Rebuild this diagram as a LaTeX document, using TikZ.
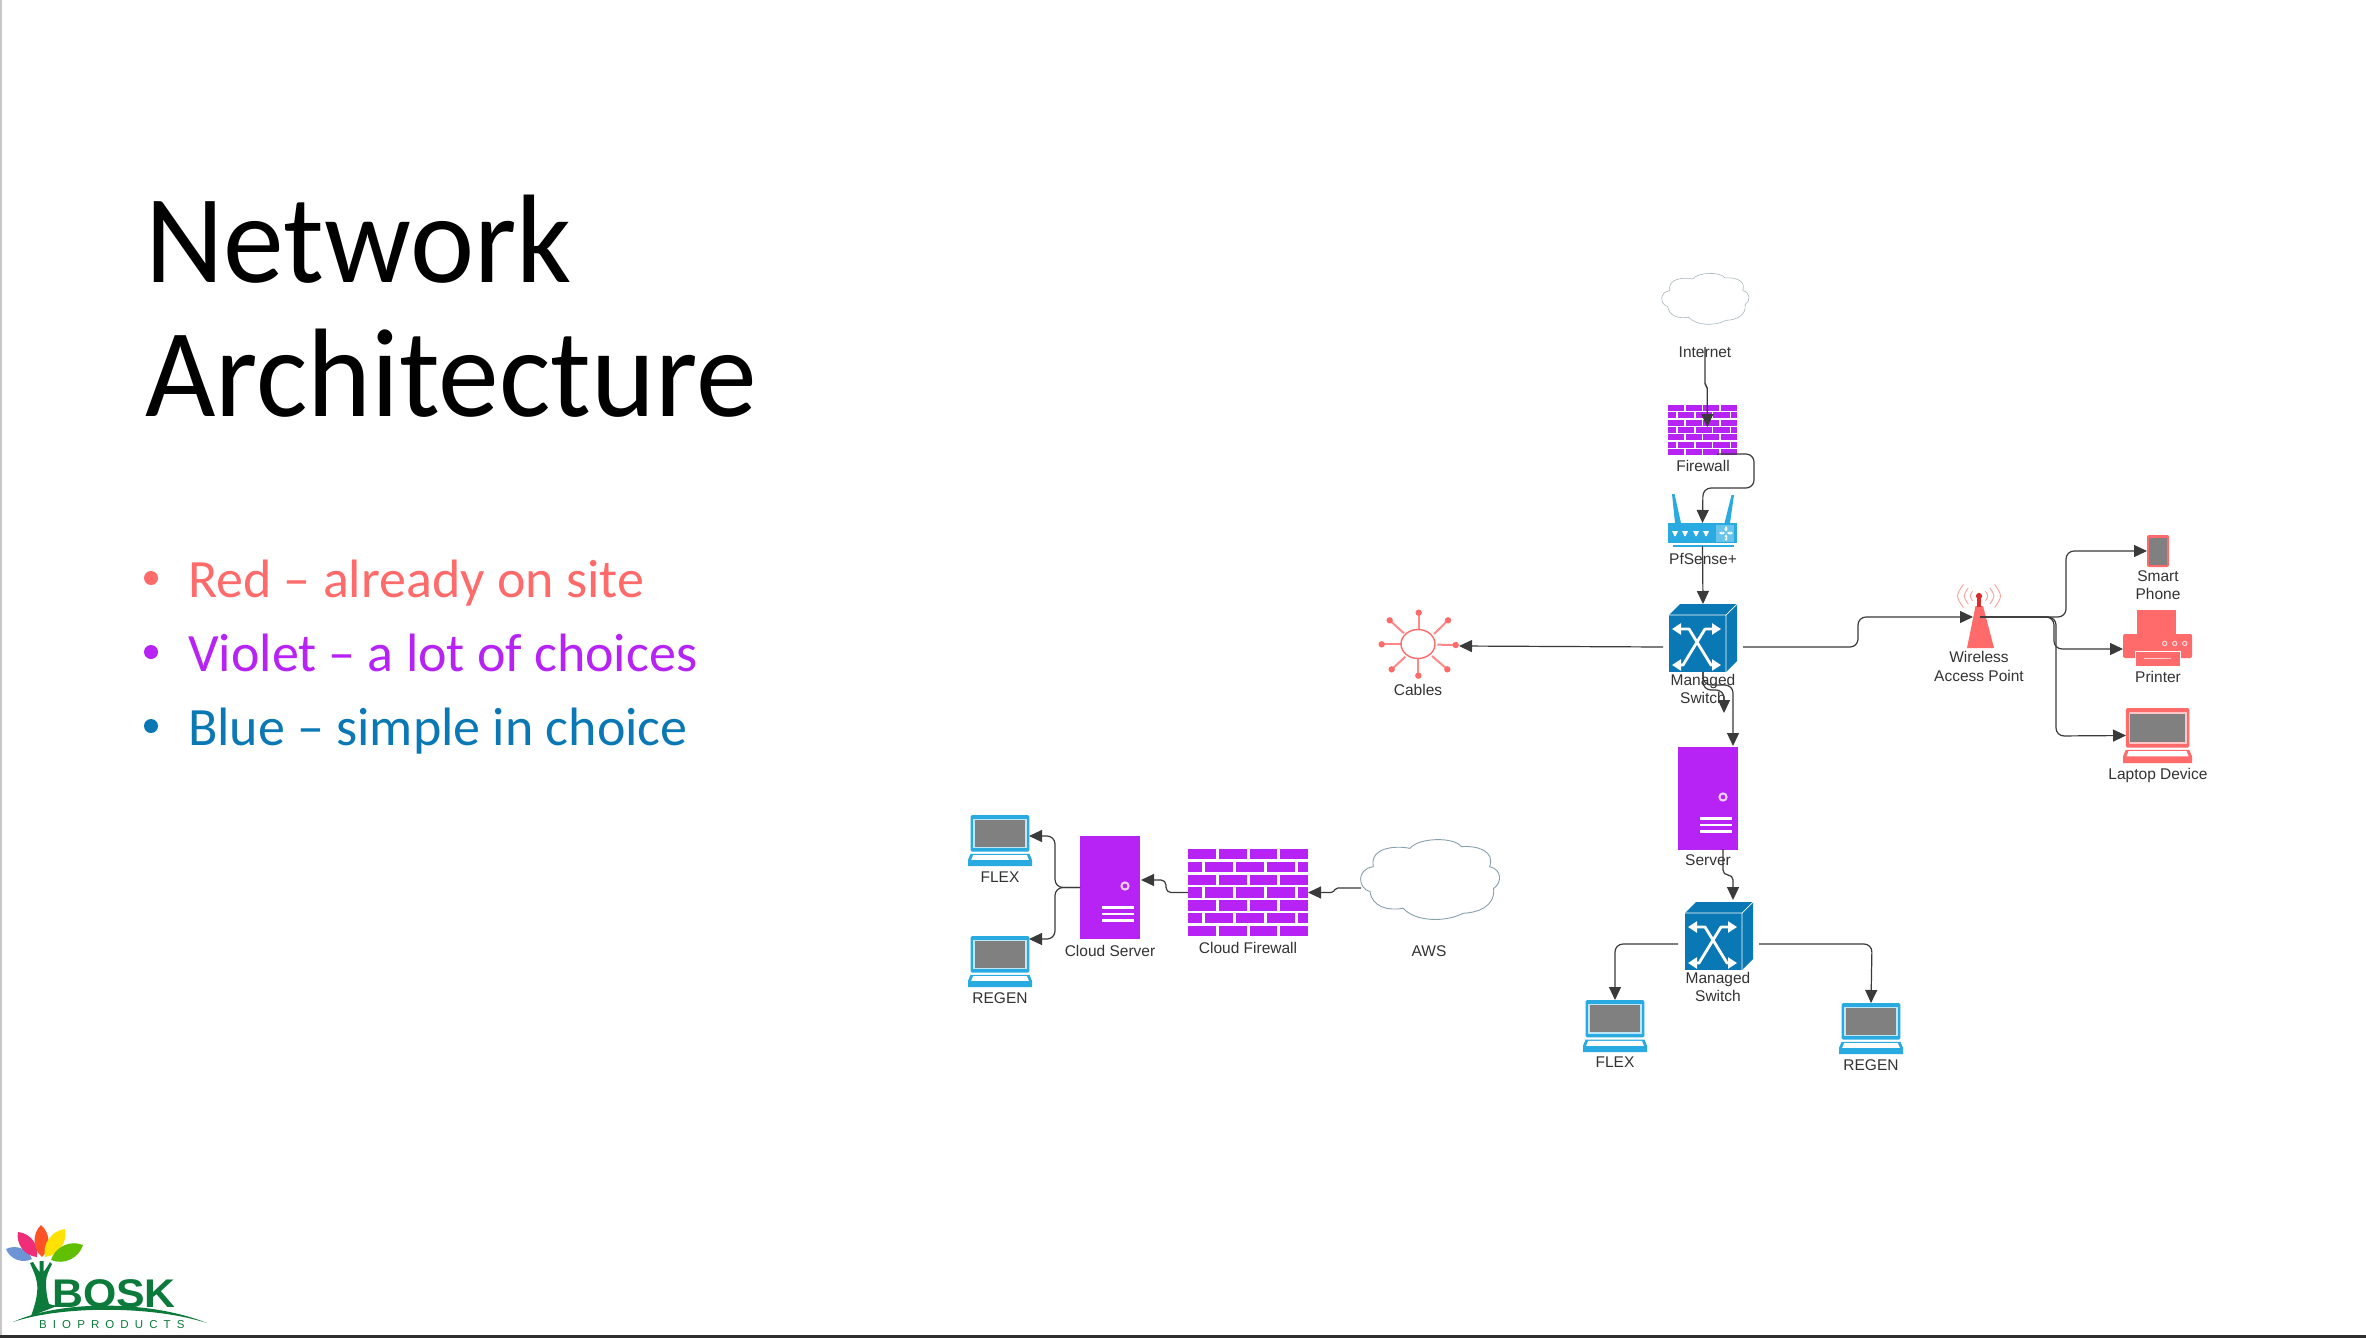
\documentclass[tikz,border=0pt]{standalone}
\usepackage{fontspec}
\setmainfont{Liberation Sans}
\newfontfamily\carlito{Carlito}
\usetikzlibrary{arrows.meta,shapes.geometric}
\definecolor{redc}{HTML}{FF6B6B}
\definecolor{vio}{HTML}{B722F5}
\definecolor{blu}{HTML}{0A78B4}
\definecolor{lbl}{HTML}{29ABE2}
\definecolor{txt}{HTML}{333333}
\definecolor{linec}{HTML}{3A3A3A}
\definecolor{scr}{HTML}{808080}
\definecolor{grn}{HTML}{0B7A3B}
\tikzset{
  conn/.style={draw=linec,line width=1.2pt,rounded corners=8pt,-{Triangle[length=13pt,width=12pt]}},
  jog/.style={rounded corners=1.8pt},
  lab/.style={font=\fontsize{15.5}{18.5}\selectfont,text=txt,align=center,inner sep=0pt},
  box/.style={inner sep=0pt,outer sep=0pt,minimum width=#1},
  titletxt/.style={anchor=base west,inner sep=0pt,font=\carlito\fontsize{126}{126}\selectfont,xscale=.965},
  bul/.style={anchor=base west,inner sep=0pt,font=\carlito\fontsize{54}{54}\selectfont},
  dotb/.style={circle,inner sep=0pt,minimum size=14pt},
}
\newcommand{\cloudicon}[6]{% x y w h colour width
  \begin{scope}[shift={(#1,#2)},xscale=#3,yscale=#4]
  \draw[draw=#5,line width=#6,fill=white] (.357,.117)
   .. controls (.42,-.02) and (.68,-.03) .. (.733,.096)
   .. controls (.85,.08) and (.98,.15) .. (.939,.346)
   .. controls (1.03,.38) and (1.03,.55) .. (.968,.617)
   .. controls (.98,.85) and (.85,.92) .. (.745,.929)
   .. controls (.62,1.04) and (.40,1.04) .. (.308,.867)
   .. controls (.20,.90) and (.08,.85) .. (.066,.658)
   .. controls (-.02,.62) and (-.04,.38) .. (.09,.346)
   .. controls (.06,.10) and (.26,.08) .. (.357,.117) -- cycle;
  \end{scope}}
\newcommand{\fwicon}[4]{% x y w h
  \begin{scope}[shift={(#1,#2)},xscale=#3,yscale=#4]
  \foreach \r in {0,2,4,6}{
    \foreach \a/\b in {0/.237,.258/.49,.513/.745,.766/1}
      \fill[vio] (\a,\r*.1467) rectangle (\b,\r*.1467+.12);}
  \foreach \r in {1,3,5}{
    \foreach \a/\b in {0/.119,.142/.377,.400/.632,.659/.893,.916/1}
      \fill[vio] (\a,\r*.1467) rectangle (\b,\r*.1467+.12);}
  \end{scope}}
\newcommand{\switchicon}[2]{% top-left x y; 68x68
  \begin{scope}[shift={(#1,#2)}]
  \fill[blu] (0,11) -- (11,0) -- (68,0) -- (57,11) -- cycle;
  \fill[blu] (57,11) -- (68,0) -- (68,57) -- (57,68) -- cycle;
  \fill[blu] (0,11) rectangle (57,68);
  \draw[white,line width=.7pt] (0,11) -- (57,11) -- (68,0) (57,11) -- (57,68);
  \draw[white,line width=2.8pt,{Triangle[length=9pt,width=11pt]}-{Triangle[length=9pt,width=11pt]},line join=round]
    (3,25) -- (20,25) -- (42,61) -- (52,61);
  \draw[white,line width=2.8pt,{Triangle[length=9pt,width=11pt]}-{Triangle[length=9pt,width=11pt]},line join=round]
    (52,25) -- (36,25) -- (14,61) -- (3,61);
  \end{scope}}
\newcommand{\servericon}[2]{% top-left x y; 60x103
  \begin{scope}[shift={(#1,#2)}]
  \fill[vio] (0,0) rectangle (60,102.5);
  \draw[white!80!vio,line width=2pt] (45,50) circle[radius=3.6];
  \foreach \y in {71.5,78,84.5}{\draw[white,line width=2.6pt] (22,\y) -- (54,\y);}
  \end{scope}}
\newcommand{\laptopicon}[6]{% x y w h colour framecolour
  \begin{scope}[shift={(#1,#2)},xscale=#3,yscale=#4]
  \fill[#5,rounded corners=1.5pt] (.04,0) rectangle (.96,.72);
  \fill[#6] (.08,.07) rectangle (.92,.65);
  \fill[scr] (.105,.1) rectangle (.895,.62);
  \fill[#5] (.04,.76) -- (.96,.76) -- (1,.88) -- (1,1) -- (0,1) -- (0,.88) -- cycle;
  \fill[white] (.08,.785) -- (.92,.785) -- (.95,.88) -- (.05,.88) -- cycle;
  \end{scope}}
\newcommand{\leaficon}[3]{\fill[#3] #1 to[bend left=48] #2 to[bend left=48] #1 -- cycle;}
\begin{document}
\begin{tikzpicture}[x=1pt,y=-1pt]
\useasboundingbox (0,0) rectangle (2366,1338);
\fill[white] (0,0) rectangle (2366,1338);
\fill[black!22] (0,0) rectangle (2,1338);
\fill[black!82] (0,1335) rectangle (2366,1338);
% title and bullets
\node[titletxt] (t1) at (145,282) {Network};
\node[titletxt] (t2) at (145,416) {Architecture};
\node[dotb,fill=redc] (b1) at (151,578) {};
\node[bul,text=redc] (l1) at (188,597) {Red – already on site};
\node[dotb,fill=vio] (b2) at (151,652) {};
\node[bul,text=vio] (l2) at (188,671) {Violet – a lot of choices};
\node[dotb,fill=blu] (b3) at (151,726) {};
\node[bul,text=blu] (l3) at (188,745) {Blue – simple in choice};
% logo
\leaficon{(6,1249)}{(32,1259)}{cyan!45!blue!60!white}
\leaficon{(18,1232)}{(37,1257)}{magenta!65!red!85!white}
\leaficon{(41,1225)}{(42,1257)}{red!60!orange!85!white}
\leaficon{(65,1229)}{(45,1257)}{yellow!85!orange}
\leaficon{(83,1245)}{(51,1260)}{green!50!yellow!75!black}
\fill[grn] (31,1316) .. controls (37,1300) and (38,1290) .. (37,1283) .. controls (36,1276) and (33,1270) .. (30,1263)
  -- (33,1262) .. controls (36,1267) and (38,1270) .. (39.5,1272) -- (39.5,1261) -- (43.5,1261) -- (43.5,1272)
  .. controls (45,1270) and (48,1266) .. (50,1262) -- (52,1264) .. controls (49,1270) and (46,1276) .. (46,1282)
  .. controls (46,1290) and (47,1298) .. (49,1304) -- (57,1306) -- cycle;
\fill[grn] (13,1322) .. controls (60,1300) and (150,1300) .. (207,1323) .. controls (150,1305) and (60,1306) .. (13,1322) -- cycle;
\node[anchor=base west,inner sep=0pt,text=grn,font=\bfseries\fontsize{40}{40}\selectfont,xscale=1.07] (bosk) at (52,1307) {BOSK};
\node[anchor=base west,inner sep=0pt,text=grn,font=\fontsize{11.5}{11.5}\selectfont] (biop) at (39,1328) {\addfontfeature{LetterSpace=53}BIOPRODUCTS};
% icons
\cloudicon{1662}{273}{86}{51}{black!25!cyan!25!gray!65}{.6pt}
\node[box=86pt,minimum height=51pt] (internet) at (1705,298) {};
\fwicon{1668}{405}{69}{50}
\node[box=69pt,minimum height=50pt] (fw) at (1702.5,430) {};
% router
\fill[lbl] (1672,494) -- (1674.5,494) -- (1681,523) -- (1675,523) -- cycle;
\fill[lbl] (1731.5,495) -- (1734,495) -- (1730,523) -- (1724.5,523) -- cycle;
\fill[lbl] (1668,523) rectangle (1737,543);
\fill[lbl!70!white] (1716,525) rectangle (1734,542);
\draw[white,line width=1pt,{Triangle[length=2.5pt,width=3pt]}-{Triangle[length=2.5pt,width=3pt]}] (1719,533) -- (1725,533);
\draw[white,line width=1pt,{Triangle[length=2.5pt,width=3pt]}-{Triangle[length=2.5pt,width=3pt]}] (1727,533) -- (1733,533);
\draw[white,line width=1pt,{Triangle[length=2.5pt,width=3pt]}-{Triangle[length=2.5pt,width=3pt]}] (1726,526) -- (1726,531.5);
\draw[white,line width=1pt,{Triangle[length=2.5pt,width=3pt]}-{Triangle[length=2.5pt,width=3pt]}] (1726,534.5) -- (1726,541);
\foreach \x in {1675,1685,1696,1706}{\fill[white] (\x-3,531) -- (\x+3,531) -- (\x+1.5,534) -- (\x+.8,536) -- (\x-.8,536) -- (\x-1.5,534) -- cycle;}
\draw[lbl,line width=1.3pt] (1673,546) -- (1734,546);
\node[box=69pt,minimum height=23pt] (router) at (1702.5,534.5) {};
\switchicon{1669}{604}
\node[box=68pt,minimum height=68pt] (sw1) at (1703,638) {};
% cables
\foreach \px/\py/\ex/\ey in {176/68/176/118,264/91/222/132,287/165/232/164,262/238/216/198,175/257/175/208,95/238/136/200,65/163/122/163,89/91/132/130}{
  \draw[redc!80!white,line width=2pt] ({1360+\ex/3},{590+\ey/3}) -- ({1360+\px/3},{590+\py/3});
  \fill[redc] ({1360+\px/3},{590+\py/3}) circle[radius=3.2];}
\draw[redc,line width=1.4pt,fill=white] (1418,644) ellipse[x radius=17,y radius=14.5];
\node[box=82pt,minimum height=66pt] (cables) at (1418,646) {};
% wireless
\fill[redc] (1975.5,606) -- (1983,606) -- (1994,648) -- (1967,648) -- cycle;
\fill[red!50!redc!85!black] (1977,596) rectangle (1981,607);
\fill[red!50!redc!85!black] (1979,596) circle[radius=3.1];
\foreach \r in {8,13.5,19.5}{
  \draw[redc!65!white,line width=.9pt] ({1979-.8*\r},{596-.6*\r}) .. controls ({1979-1.2*\r},596) .. ({1979-.8*\r},{596+.6*\r});
  \draw[redc!65!white,line width=.9pt] ({1979+.8*\r},{596-.6*\r}) .. controls ({1979+1.2*\r},596) .. ({1979+.8*\r},{596+.6*\r});}
\node[box=27pt,minimum height=41pt] (wap) at (1980.5,627.5) {};
% phone
\fill[redc,rounded corners=2pt] (2147,535) rectangle (2169,567);
\fill[scr] (2149,537.5) rectangle (2167,564.5);
\node[box=22pt,minimum height=32pt] (phone) at (2158,551) {};
% printer
\fill[redc] (2137,610) rectangle (2176,634);
\fill[redc,rounded corners=1.5pt] (2123,634) rectangle (2192,658);
\foreach \x in {2164.7,2174.7,2184.7}{\draw[white!75!redc,line width=1pt] (\x,643.5) circle[radius=2.2];}
\draw[white,line width=.8pt,fill=redc] (2135,651.5) rectangle (2180,666);
\draw[white!70!redc,line width=1pt] (2144,658.5) -- (2171,658.5);
\node[box=69pt,minimum height=30pt] (printer) at (2157.5,649) {};
\laptopicon{2123}{708}{69}{55}{redc}{white!60!redc}
\node[box=64pt,minimum height=55pt] (laptop) at (2158,735.5) {};
\servericon{1678}{747}
\node[box=60pt,minimum height=102pt] (server) at (1708,798) {};
\switchicon{1685}{902}
\node[box=68pt,minimum height=68pt] (sw2) at (1719,936) {};
\laptopicon{1583}{1000}{64}{52}{lbl}{white!70!lbl}
\node[box=64pt,minimum height=52pt] (flexb) at (1615,1026) {};
\laptopicon{1839}{1003}{64}{51}{lbl}{white!70!lbl}
\node[box=64pt,minimum height=51pt] (regenb) at (1871,1028.5) {};
\laptopicon{968}{815}{64}{51}{lbl}{white!70!lbl}
\node[box=64pt,minimum height=51pt] (flexa) at (1000,840.5) {};
\laptopicon{968}{936}{64}{51}{lbl}{white!70!lbl}
\node[box=64pt,minimum height=51pt] (regena) at (1000,961.5) {};
\servericon{1080}{836}
\node[box=60pt,minimum height=103pt] (csrv) at (1110,887.5) {};
\fwicon{1188}{849}{120}{87}
\node[box=120pt,minimum height=87pt] (cfw) at (1248,892.5) {};
\cloudicon{1361}{839}{137}{80}{black!20!cyan!30!gray!90}{.9pt}
\node[box=137pt,minimum height=80pt] (aws) at (1429.5,879) {};
% labels
\node[lab] (linternet) at (1705,352.5) {Internet};
\node[lab] (lfw) at (1703,465.5) {Firewall};
\node[lab] (lrouter) at (1703,558.5) {PfSense+};
\node[lab] (lsw1) at (1703,689) {Managed\\Switch};
\node[lab] (lcables) at (1418,690) {Cables};
\node[lab] (lwap) at (1979,666.5) {Wireless\\Access Point};
\node[lab] (lphone) at (2158,585) {Smart\\Phone};
\node[lab] (lprinter) at (2158,676.5) {Printer};
\node[lab] (llaptop) at (2158,775) {Laptop Device};
\node[lab] (lserver) at (1708,860.5) {Server};
\node[lab] (lsw2) at (1718,987) {Managed\\Switch};
\node[lab] (lflexb) at (1615,1062.5) {FLEX};
\node[lab] (lregenb) at (1871,1065.5) {REGEN};
\node[lab] (lflexa) at (1000,877.5) {FLEX};
\node[lab] (lregena) at (1000,998.5) {REGEN};
\node[lab] (lcsrv) at (1110,950.5) {Cloud Server};
\node[lab] (lcfw) at (1248,947.5) {Cloud Firewall};
\node[lab] (laws) at (1429,951.5) {AWS};
% ports
\coordinate (fwin) at (1707.3,427);
\coordinate (fwout) at (1717,454);
\coordinate (sw1e) at (1743,647);
\coordinate (sw1w) at (1663,647);
\coordinate (wapin) at (1973,617);
\coordinate (wapout) at (1980,617);
\coordinate (srvin) at (1733,746);
\coordinate (srvout) at (1723,849);
\coordinate (sw2in) at (1733,900);
\coordinate (sw2e) at (1759,944);
\coordinate (sw2w) at (1678,944);
\coordinate (stub) at (1724,713);
\coordinate (awsout) at (1361,888);
\coordinate (csrvin) at (1141,880);
\coordinate (flexin) at (1029,836);
\coordinate (regenin) at (1029,939);
% connectors
\draw[conn,jog] (linternet.north) -- (1705,385) -- (1707.3,387) -- (fwin);
\draw[conn] (fwout) -- (1754,454) -- (1754,488) -- (1703,488) -- (router.north);
\draw[conn] (router.south) -- (sw1.north);
\draw[conn] (sw1e) -- (1858,647) -- (1858,617) -- (wapin);
\draw[conn] (sw1w) -- (cables.east);
\draw[conn] (sw1.south) -- (1703,690) -- (1724,690) -- (stub);
\draw[conn] (sw1.south) -- (1703,685) -- (1733,685) -- (srvin);
\draw[conn,rounded corners=5pt] (srvout) -- (1723,875) -- (1733,875) -- (sw2in);
\draw[conn] (sw2e) -- (1872,944) -- (regenb.north);
\draw[conn] (sw2w) -- (1615,944) -- (flexb.north);
\draw[conn] (wapout) -- (2066,617) -- (2066,551) -- (phone.west);
\draw[conn] (wapout) -- (2054,617) -- (2054,649) -- (printer.west);
\draw[conn] (wapout) -- (2056,617) -- (2056,736) -- (laptop.west);
\draw[conn,jog] (awsout) -- (1336,888) -- (1333,892.5) -- (cfw.east);
\draw[conn,rounded corners=5pt] (cfw.west) -- (1166,892.5) -- (1166,880) -- (csrvin);
\draw[conn] (csrv.west) -- (1055,887.5) -- (1055,836) -- (flexin);
\draw[conn] (csrv.west) -- (1055,887.5) -- (1055,939) -- (regenin);
\end{tikzpicture}
\end{document}
